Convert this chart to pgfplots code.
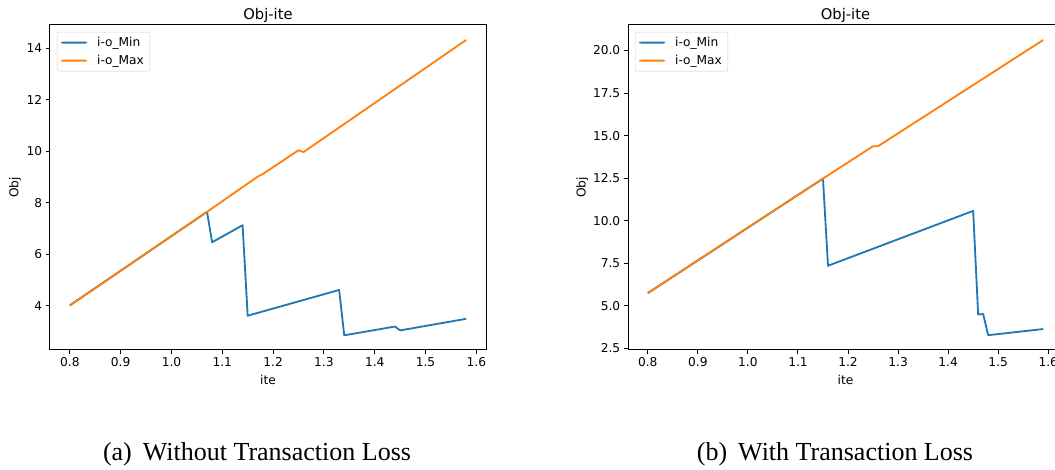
\documentclass[border=0pt]{standalone}
\usepackage{fontspec}
\setmainfont{DejaVu Sans}
\newfontfamily\capfont{Liberation Serif}
\usepackage{pgfplots}
\pgfplotsset{compat=1.18}
\definecolor{mplblue}{HTML}{1F77B4}
\definecolor{mplorange}{HTML}{FF7F0E}
\definecolor{legedge}{HTML}{CCCCCC}

\newcommand{\ticksize}{\fontsize{12.2}{14}\selectfont}
\newcommand{\titlesize}{\fontsize{14.7}{17}\selectfont}

\pgfplotsset{
  objite/.style={
    scale only axis, width=436pt, height=325pt,
    anchor=south west,
    axis line style={black, line width=1pt},
    tick style={black, line width=1pt},
    tick align=outside, major tick length=4.3pt,
    xtick pos=bottom, ytick pos=left,
    /pgf/number format/assume math mode=true,
    ticklabel style={font=\ticksize},
    xtick={0.8,0.9,...,1.61},
    xticklabel style={/pgf/number format/.cd, fixed, fixed zerofill, precision=1},
    title={Obj-ite},
    title style={font=\titlesize, at={(axis description cs:0.5,1)}, anchor=base, yshift=-0.5pt},
    xlabel={ite}, ylabel={Obj},
    label style={font=\ticksize},
    xlabel style={at={(axis description cs:0.5,-0.0923)}, anchor=center},
    legend style={at={(rel axis cs:0,1)}, anchor=north west, xshift=7pt, yshift=-7pt,
      draw=legedge, rounded corners=2pt, font=\ticksize, inner xsep=4pt, inner ysep=3pt,
      row sep=3.4pt, cells={anchor=west}},
    legend image code/.code={\fill[#1, draw=none] (0pt,-1pt) rectangle (26pt,1pt); \path (33pt,0pt);},
    legend cell align=left,
    every axis plot/.append style={line width=1.83pt, line join=round},
  }
}

\begin{document}
\begin{tikzpicture}[x=1pt,y=1pt]
\begin{scope}
\clip (0,0) rectangle (1055,470);

% (a) without transaction loss
\begin{axis}[objite, at={(50pt,120pt)},
  xmin=0.761, xmax=1.619, ymin=2.29, ymax=14.9,
  ytick={4,6,8,10,12,14},
  ylabel style={at={(axis description cs:-0.0803,0.5)}, anchor=center}]
\addplot[mplblue] coordinates {
 (0.80,4.02) (1.07,7.65) (1.08,6.47) (1.14,7.13) (1.15,3.62) (1.33,4.62)
 (1.34,2.86) (1.44,3.20) (1.45,3.05) (1.58,3.50)
};
\addlegendentry{i-o\_Min}
\addplot[mplorange] coordinates {
 (0.80,4.02) (1.07,7.65) (1.17,9.02) (1.18,9.12) (1.25,10.04) (1.26,9.97) (1.58,14.32)
};
\addlegendentry{i-o\_Max}
\end{axis}

% (b) with transaction loss
\begin{axis}[objite, at={(628pt,120pt)}, width=435pt,
  xmin=0.7605, xmax=1.6295, ymin=2.41, ymax=21.5,
  ytick={2.5,5,...,20.1},
  yticklabel style={/pgf/number format/.cd, fixed, fixed zerofill, precision=1},
  ylabel style={at={(axis description cs:-0.105,0.5)}, anchor=center}]
\addplot[mplblue] coordinates {
 (0.80,5.75) (1.15,12.48) (1.16,7.36) (1.45,10.58) (1.46,4.50) (1.47,4.52)
 (1.48,3.28) (1.59,3.64)
};
\addlegendentry{i-o\_Min}
\addplot[mplorange] coordinates {
 (0.80,5.75) (1.15,12.48) (1.25,14.38) (1.26,14.38) (1.59,20.62)
};
\addlegendentry{i-o\_Max}
\end{axis}

\node[anchor=base, font=\capfont\fontsize{26}{30}\selectfont] at (257,9.5) {(a)\hskip 11pt Without Transaction Loss};
\node[anchor=base, font=\capfont\fontsize{26}{30}\selectfont] at (835,9.5) {(b)\hskip 11pt With Transaction Loss};
\end{scope}
\pgfresetboundingbox
\useasboundingbox (0,0) rectangle (1055,470);
\end{tikzpicture}
\end{document}
